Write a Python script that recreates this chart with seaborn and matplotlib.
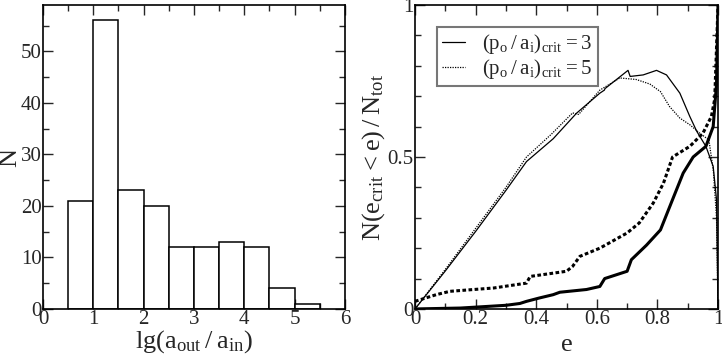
import matplotlib
matplotlib.use("Agg")
import matplotlib.pyplot as plt
import seaborn as sns
from matplotlib.ticker import MultipleLocator

# left panel: histogram of lg(a_out / a_in)
bin_edges = [0.5, 1.0, 1.5, 2.0, 2.5, 3.0, 3.5, 4.0, 4.5, 5.0, 5.5]
bin_counts = [21, 56, 23, 20, 12, 12, 13, 12, 4, 1]

# right panel: cumulative fractions, thin curves
e_thin3 = [0.0, 0.10, 0.20, 0.30, 0.368, 0.456, 0.533, 0.61, 0.625, 0.627, 0.703, 0.71,
           0.753, 0.797, 0.83, 0.874, 0.907, 0.93, 0.96, 0.984, 0.995, 1.0]
n_thin3 = [0.0, 0.125, 0.255, 0.39, 0.485, 0.56, 0.644, 0.71, 0.72, 0.725, 0.785, 0.765,
           0.77, 0.785, 0.77, 0.71, 0.633, 0.584, 0.535, 0.469, 0.36, 0.0]
e_thin5 = [0.0, 0.10, 0.20, 0.30, 0.368, 0.45, 0.52, 0.54, 0.61, 0.676, 0.73, 0.775,
           0.81, 0.84, 0.874, 0.907, 0.94, 0.97, 0.985, 0.995, 1.0]
n_thin5 = [0.0, 0.13, 0.265, 0.40, 0.50, 0.575, 0.645, 0.64, 0.72, 0.76, 0.755, 0.74,
           0.715, 0.666, 0.628, 0.606, 0.578, 0.556, 0.45, 0.3, 0.0]

# thick curves
e_thick3 = [0.0, 0.15, 0.30, 0.346, 0.368, 0.41, 0.456, 0.478, 0.566, 0.61, 0.626, 0.70,
            0.714, 0.764, 0.81, 0.85, 0.885, 0.918, 0.96, 0.984, 0.995, 1.0]
n_thick3 = [0.0, 0.003, 0.012, 0.018, 0.025, 0.036, 0.047, 0.055, 0.064, 0.074, 0.10, 0.124,
            0.162, 0.21, 0.26, 0.36, 0.447, 0.50, 0.535, 0.60, 0.74, 1.0]
e_thick5 = [0.0, 0.07, 0.115, 0.26, 0.368, 0.38, 0.50, 0.52, 0.544, 0.61, 0.70, 0.74,
            0.786, 0.82, 0.85, 0.907, 0.95, 0.978, 0.989, 1.0]
n_thick5 = [0.025, 0.047, 0.058, 0.069, 0.085, 0.107, 0.124, 0.14, 0.173, 0.20, 0.25, 0.283,
            0.348, 0.414, 0.50, 0.535, 0.578, 0.633, 0.69, 1.0]

legend_labels = [r'$(p_o\,/\,a_i)_{crit} = 3$', r'$(p_o\,/\,a_i)_{crit} = 5$']

sns.set_style("ticks")
plt.rcParams['font.family'] = ['Liberation Serif', 'DejaVu Serif']
plt.rcParams['mathtext.fontset'] = 'custom'
plt.rcParams['mathtext.rm'] = 'Liberation Serif'
plt.rcParams['mathtext.default'] = 'rm'

fig = plt.figure(figsize=(7.22, 3.58), dpi=100)
ax1 = fig.add_axes([0.0596, 0.137, 0.418, 0.849])
ax2 = fig.add_axes([0.5748, 0.137, 0.4197, 0.849])

centers = [(a + b) / 2 for a, b in zip(bin_edges[:-1], bin_edges[1:])]
sns.histplot(x=centers, weights=bin_counts, bins=bin_edges, ax=ax1,
             color='white', edgecolor='black', linewidth=1.1, alpha=1)
ax1.set_xlim(0, 6)
ax1.set_ylim(0, 59)
ax1.xaxis.set_major_locator(MultipleLocator(1))
ax1.xaxis.set_minor_locator(MultipleLocator(0.5))
ax1.yaxis.set_major_locator(MultipleLocator(10))
ax1.yaxis.set_minor_locator(MultipleLocator(5))
ax1.set_xlabel(r'$\mathrm{lg(a_{out}\,/\,a_{in})}$', fontsize=19, labelpad=-1)
ax1.set_ylabel('N', fontsize=19, labelpad=0)

sns.lineplot(x=e_thin3, y=n_thin3, ax=ax2, color='black', lw=0.9, sort=False,
             estimator=None, label=legend_labels[0])
sns.lineplot(x=e_thin5, y=n_thin5, ax=ax2, color='black', lw=0.9, sort=False,
             estimator=None, linestyle=(0, (1, 1)), label=legend_labels[1])
sns.lineplot(x=e_thick3, y=n_thick3, ax=ax2, color='black', lw=2.2, sort=False,
             estimator=None)
sns.lineplot(x=e_thick5, y=n_thick5, ax=ax2, color='black', lw=2.2, sort=False,
             estimator=None, linestyle=(0, (1.2, 0.8)))
ax2.set_xlim(0, 1)
ax2.set_ylim(0, 1)
ax2.xaxis.set_major_locator(MultipleLocator(0.2))
ax2.xaxis.set_minor_locator(MultipleLocator(0.1))
ax2.yaxis.set_major_locator(MultipleLocator(0.5))
ax2.yaxis.set_minor_locator(MultipleLocator(0.1))
ax2.xaxis.set_major_formatter(plt.FuncFormatter(lambda v, p: f'{v:g}'))
ax2.yaxis.set_major_formatter(plt.FuncFormatter(lambda v, p: f'{v:g}'))
ax2.set_xlabel('e', fontsize=19, labelpad=3)
ax2.set_ylabel(r'$N(e_{crit} < e)\,/\,N_{tot}$', fontsize=19, labelpad=0)
leg = ax2.legend(loc='upper left', bbox_to_anchor=(0.073, 0.928), fontsize=15,
                 frameon=True, fancybox=False, edgecolor='#555555', handlelength=1.1,
                 handletextpad=0.8, borderpad=0.25, labelspacing=0.05, borderaxespad=0)
leg.get_frame().set_linewidth(1.5)

for ax in (ax1, ax2):
    ax.tick_params(which='both', direction='in', top=True, right=True,
                   labelsize=15, width=1, pad=1)
    ax.tick_params(which='major', length=7)
    ax.tick_params(which='minor', length=4)
    for s in ax.spines.values():
        s.set_linewidth(1.2)
        s.set_color('black')

fig.savefig('out.png', dpi=100)
